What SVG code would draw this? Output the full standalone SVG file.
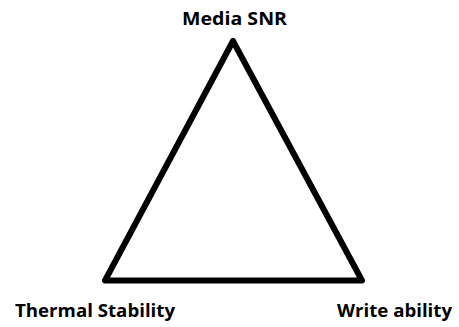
<svg xmlns="http://www.w3.org/2000/svg" width="459" height="327" viewBox="0 0 459 327">
<style>
.lbl{font-family:"Open Sans","Noto Sans","DejaVu Sans",sans-serif;font-weight:bold;font-size:17px;fill:#000}
.tri{fill:none;stroke:#000;stroke-width:6;stroke-linejoin:round}
</style>
<rect width="459" height="327" fill="#fff"/>
<g id="connectors">
<polygon class="tri" points="233,41 105,280.5 362,280.5"/>
</g>
<g id="media-snr"><text class="lbl" x="182" y="25" textLength="105" lengthAdjust="spacingAndGlyphs">Media SNR</text></g>
<g id="thermal-stability"><text class="lbl" x="15" y="317" textLength="160" lengthAdjust="spacingAndGlyphs">Thermal Stability</text></g>
<g id="write-ability"><text class="lbl" x="337" y="317" textLength="115" lengthAdjust="spacingAndGlyphs">Write ability</text></g>
</svg>
